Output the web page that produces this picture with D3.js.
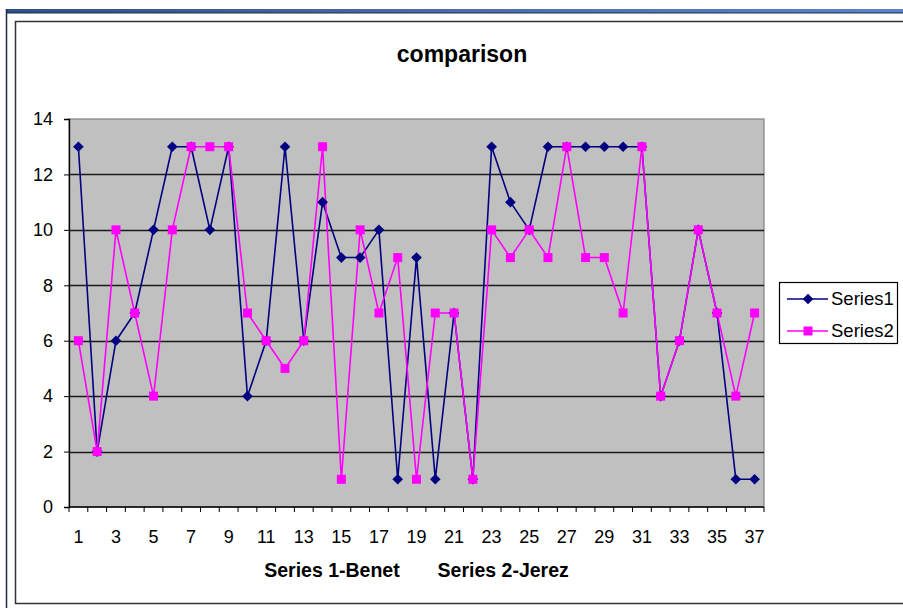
<!DOCTYPE html>
<html>
<head>
<meta charset="utf-8">
<script src="https://cdn.jsdelivr.net/npm/d3@7"></script>
<style>
  html, body { margin: 0; padding: 0; background: #fff; }
  svg { display: block; font-family: Arial, "Liberation Sans", sans-serif; }
</style>
</head>
<body>
<svg id="chart" width="903" height="608"></svg>
<script>
// ---- data ----
const categories = d3.range(1, 38);
const series1 = [13, 2, 6, 7, 10, 13, 13, 10, 13, 4, 6, 13, 6, 11, 9, 9, 10, 1, 9, 1, 7, 1, 13, 11, 10, 13, 13, 13, 13, 13, 13, 4, 6, 10, 7, 1, 1];
const series2 = [6, 2, 10, 7, 4, 10, 13, 13, 13, 7, 6, 5, 6, 13, 1, 10, 7, 9, 1, 7, 7, 1, 10, 9, 10, 9, 13, 9, 9, 7, 13, 4, 6, 10, 7, 4, 7];
const seriesNames = ["Series1", "Series2"];
const yTicks = [0, 2, 4, 6, 8, 10, 12, 14];
const xTickLabels = categories.filter(c => c % 2 === 1);
const chartTitle = "comparison";
const xAxisTitle = "Series 1-Benet       Series 2-Jerez";

// ---- layout ----
const svg = d3.select("#chart");
const plot = { left: 69, top: 119, right: 764, bottom: 507 };

// window chrome
const defs = svg.append("defs");
const grad = defs.append("linearGradient").attr("id", "bar").attr("x1", 0).attr("x2", 1).attr("y1", 0).attr("y2", 0);
grad.append("stop").attr("offset", "0%").attr("stop-color", "#2f4f86");
grad.append("stop").attr("offset", "50%").attr("stop-color", "#4a6db0");
grad.append("stop").attr("offset", "100%").attr("stop-color", "#5c82cc");
svg.append("rect").attr("x", 6).attr("y", 9).attr("width", 897).attr("height", 4).attr("fill", "url(#bar)");
svg.append("line").attr("x1", 6).attr("x2", 903).attr("y1", 13).attr("y2", 13).attr("stroke", "#1f2a44").attr("stroke-width", 1);
svg.append("line").attr("x1", 6.5).attr("x2", 6.5).attr("y1", 9).attr("y2", 608).attr("stroke", "#1f2a44").attr("stroke-width", 1.5);

// chart frame
svg.append("rect").attr("x", 15.5).attr("y", 21.5).attr("width", 900).attr("height", 582)
  .attr("fill", "#fff").attr("stroke", "#333").attr("stroke-width", 1.5);

// scales
const x = d3.scaleBand().domain(categories).range([plot.left, plot.right]).paddingInner(0).paddingOuter(0);
const y = d3.scaleLinear().domain([0, 14]).range([plot.bottom, plot.top]);
const cx = d => x(d) + x.bandwidth() / 2;

// plot background
svg.append("rect").attr("x", plot.left).attr("y", plot.top)
  .attr("width", plot.right - plot.left).attr("height", plot.bottom - plot.top)
  .attr("fill", "#c0c0c0").attr("stroke", "#808080").attr("stroke-width", 1.2);

// gridlines
svg.append("g").selectAll("line").data(yTicks.filter(t => t > 0 && t < 14)).join("line")
  .attr("x1", plot.left).attr("x2", plot.right)
  .attr("y1", d => Math.round(y(d)) + 0.5).attr("y2", d => Math.round(y(d)) + 0.5)
  .attr("stroke", "#1a1a1a").attr("stroke-width", 1.5);

// y axis
const yAxis = d3.axisLeft(y).tickValues(yTicks).tickSize(5).tickPadding(11);
const gy = svg.append("g").attr("transform", `translate(${plot.left},0)`).call(yAxis);
gy.select(".domain").attr("stroke", "#000").attr("stroke-width", 1.3);
gy.selectAll(".tick line").attr("stroke", "#000");
gy.selectAll(".tick text").attr("font-size", 18).attr("fill", "#000").attr("font-family", "Arial, 'Liberation Sans', sans-serif");

// x axis: ticks at category boundaries, labels at odd categories
const gx = svg.append("g").attr("transform", `translate(0,${plot.bottom})`);
gx.append("line").attr("x1", plot.left).attr("x2", plot.right).attr("y1", 0).attr("y2", 0)
  .attr("stroke", "#000").attr("stroke-width", 1.3);
const boundaries = categories.map(c => x(c)).concat([plot.right]);
gx.selectAll("line.tk").data(boundaries).join("line").attr("class", "tk")
  .attr("x1", d => d).attr("x2", d => d).attr("y1", 0).attr("y2", 5)
  .attr("stroke", "#000").attr("stroke-width", 1);
gx.selectAll("text").data(xTickLabels).join("text")
  .attr("x", d => cx(d)).attr("y", 36)
  .attr("text-anchor", "middle").attr("font-size", 18).attr("fill", "#000")
  .text(d => d);

// title
svg.append("text").attr("x", 462).attr("y", 62).attr("text-anchor", "middle")
  .attr("font-size", 23).attr("font-weight", "bold").text(chartTitle);

// x axis title
svg.append("text").attr("x", (plot.left + plot.right) / 2).attr("y", 577).attr("text-anchor", "middle")
  .attr("font-size", 19.5).attr("font-weight", "bold").style("white-space", "pre")
  .attr("xml:space", "preserve").text(xAxisTitle);

// lines
const line = d3.line().x((d, i) => cx(categories[i])).y(d => y(d));
const colors = ["#000080", "#ff00ff"];
[series1, series2].forEach((s, k) => {
  svg.append("path").datum(s).attr("d", line).attr("fill", "none")
    .attr("stroke", colors[k]).attr("stroke-width", 1.6).attr("stroke-linejoin", "round");
});

// markers
const diamond = d3.symbol().type(d3.symbolDiamond2).size(72);
svg.append("g").selectAll("path").data(series1).join("path")
  .attr("d", diamond)
  .attr("transform", (d, i) => `translate(${cx(categories[i])},${y(d)})`)
  .attr("fill", colors[0]);
svg.append("g").selectAll("rect").data(series2).join("rect")
  .attr("x", (d, i) => cx(categories[i]) - 4.5).attr("y", d => y(d) - 4.5)
  .attr("width", 9).attr("height", 9).attr("fill", colors[1]);

// legend
const lg = svg.append("g");
lg.append("rect").attr("x", 779.5).attr("y", 282.5).attr("width", 118).attr("height", 61)
  .attr("fill", "#fff").attr("stroke", "#000").attr("stroke-width", 1.2);
const ly = [299, 331];
seriesNames.forEach((name, k) => {
  lg.append("line").attr("x1", 787).attr("x2", 828).attr("y1", ly[k]).attr("y2", ly[k])
    .attr("stroke", colors[k]).attr("stroke-width", 1.6);
  if (k === 0) {
    lg.append("path").attr("d", diamond).attr("transform", `translate(808,${ly[k]})`).attr("fill", colors[0]);
  } else {
    lg.append("rect").attr("x", 803.5).attr("y", ly[k] - 4.5).attr("width", 9).attr("height", 9).attr("fill", colors[1]);
  }
  lg.append("text").attr("x", 831).attr("y", ly[k] + 6).attr("font-size", 18.5).attr("fill", "#000").text(name);
});
</script>
</body>
</html>
